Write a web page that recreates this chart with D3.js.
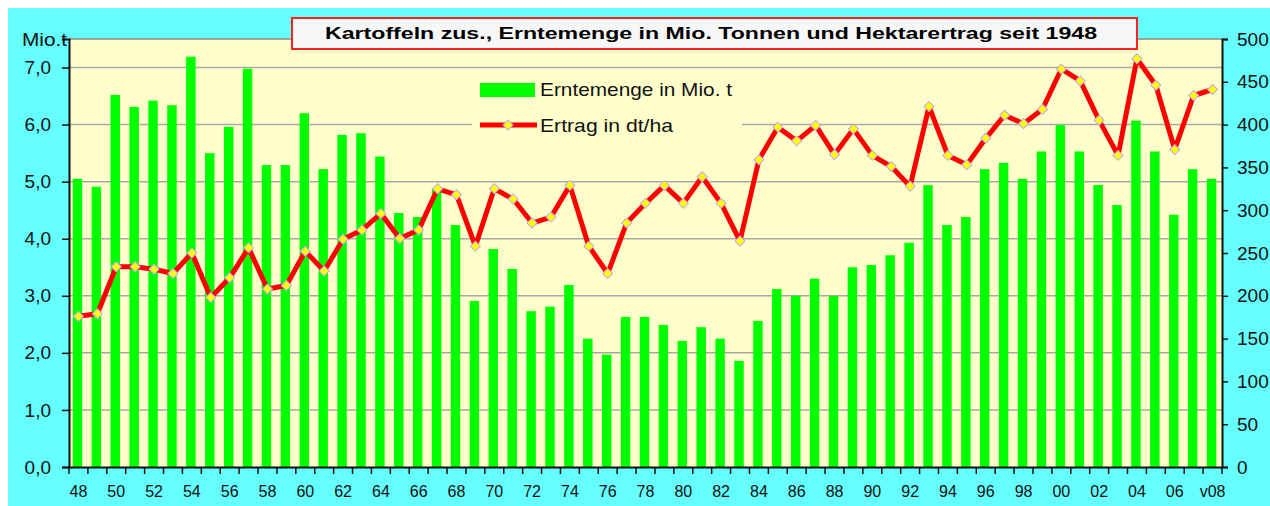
<!DOCTYPE html>
<html>
<head>
<meta charset="utf-8">
<script src="https://cdn.jsdelivr.net/npm/d3@7"></script>
<style>
  body { margin: 0; background: #fff; }
  svg { display: block; font-family: "Liberation Sans", Arial, sans-serif; }
</style>
</head>
<body>
<div id="chart"></div>
<script>
// years 1948 .. 2008 (v08 = vorläufig)
var years = ["48","49","50","51","52","53","54","55","56","57","58","59",
  "60","61","62","63","64","65","66","67","68","69","70","71","72","73","74",
  "75","76","77","78","79","80","81","82","83","84","85","86","87","88","89",
  "90","91","92","93","94","95","96","97","98","99","00","01","02","03","04",
  "05","06","07","v08"];

// Erntemenge in Mio. t
var harvest = [5.05,4.91,6.52,6.31,6.42,6.34,7.19,5.50,5.96,6.98,5.29,5.29,
  6.20,5.22,5.82,5.85,5.44,4.45,4.38,4.87,4.24,2.91,3.82,3.47,2.73,2.81,3.19,
  2.25,1.97,2.63,2.63,2.49,2.21,2.45,2.25,1.86,2.56,3.12,3.00,3.30,3.00,3.50,
  3.54,3.71,3.93,4.94,4.24,4.38,5.22,5.33,5.05,5.53,5.99,5.53,4.94,4.59,6.07,
  5.53,4.42,5.22,5.05];

// Ertrag in dt/ha
var yieldHa = [176,179,234,234,231,226,250,198,221,256,208,212,
  252,229,266,277,296,267,277,325,318,258,325,313,285,292,329,
  258,226,285,308,329,308,339,308,264,359,397,381,399,365,395,
  364,351,328,421,364,353,384,411,401,418,465,451,405,364,477,
  446,371,434,441];

var leftTicks = [0,1,2,3,4,5,6,7];
var rightTicks = [0,50,100,150,200,250,300,350,400,450,500];

var title = "Kartoffeln zus., Erntemenge in Mio. Tonnen und Hektarertrag seit 1948";
var legendBar = "Erntemenge in Mio. t";
var legendLine = "Ertrag in dt/ha";

var W = 1270, H = 506;
var margin = {top: 39, right: 48, bottom: 39, left: 69},
    width = W - margin.left - margin.right,
    height = H - margin.top - margin.bottom;

var svg = d3.select("#chart").append("svg")
    .attr("width", W)
    .attr("height", H);

// cyan chart area
svg.append("rect")
    .attr("x", 8).attr("y", 8)
    .attr("width", W - 8).attr("height", H - 8)
    .attr("fill", "#66ffff");

var g = svg.append("g")
    .attr("transform", "translate(" + margin.left + "," + margin.top + ")");

var x = d3.scaleBand().domain(years).range([0, width]).padding(0);
var y = d3.scaleLinear().domain([0, 7.5]).range([height, 0]);
var y2 = d3.scaleLinear().domain([0, 500]).range([height, 0]);

// plot background
g.append("rect")
    .attr("width", width).attr("height", height)
    .attr("fill", "#ffffcc");

// top border
g.append("line")
    .attr("x1", 0).attr("x2", width)
    .attr("y1", 0).attr("y2", 0)
    .attr("stroke", "#8a8a8a").attr("stroke-width", 1.5);

// gridlines
g.selectAll(".grid")
    .data(leftTicks.filter(function(d) { return d > 0; }))
  .enter().append("line")
    .attr("x1", 0).attr("x2", width)
    .attr("y1", function(d) { return y(d); })
    .attr("y2", function(d) { return y(d); })
    .attr("stroke", "#a8a8a8").attr("stroke-width", 1.5);

// bars
var bw = x.bandwidth() * 0.5;
g.selectAll(".bar")
    .data(harvest)
  .enter().append("rect")
    .attr("x", function(d, i) { return x(years[i]) + (x.bandwidth() - bw) / 2 - 1; })
    .attr("width", bw)
    .attr("y", function(d) { return y(d); })
    .attr("height", function(d) { return height - y(d); })
    .style("fill", "#00ff00");

// legend box
var leg = svg.append("g");
leg.append("rect")
    .attr("x", 472).attr("y", 72).attr("width", 270).attr("height", 70)
    .attr("fill", "#ffffcc");
leg.append("rect")
    .attr("x", 480).attr("y", 83).attr("width", 55).attr("height", 14)
    .attr("fill", "#00ff00");
leg.append("text")
    .attr("x", 540).attr("y", 96)
    .attr("font-size", 19)
    .attr("textLength", 192).attr("lengthAdjust", "spacingAndGlyphs")
    .attr("fill", "#111")
    .text(legendBar);
leg.append("line")
    .attr("x1", 480).attr("x2", 537).attr("y1", 125).attr("y2", 125)
    .attr("stroke", "#ff0000").attr("stroke-width", 5);
leg.append("path")
    .attr("d", d3.symbol().type(d3.symbolSquare).size(50)())
    .attr("transform", "translate(508,125) rotate(45)")
    .attr("fill", "#ffff00").attr("stroke", "#c4a4f0").attr("stroke-width", 1);
leg.append("text")
    .attr("x", 540).attr("y", 132)
    .attr("font-size", 19)
    .attr("textLength", 133).attr("lengthAdjust", "spacingAndGlyphs")
    .attr("fill", "#111")
    .text(legendLine);

// yield line
var line = d3.line()
    .x(function(d, i) { return x(years[i]) + x.bandwidth() / 2; })
    .y(function(d) { return y2(d); });

g.append("path")
    .datum(yieldHa)
    .attr("d", line)
    .attr("fill", "none")
    .attr("stroke", "#ff0000")
    .attr("stroke-width", 5)
    .attr("stroke-linejoin", "round");

g.selectAll(".mark")
    .data(yieldHa)
  .enter().append("path")
    .attr("d", d3.symbol().type(d3.symbolSquare).size(50)())
    .attr("transform", function(d, i) {
      return "translate(" + (x(years[i]) + x.bandwidth() / 2) + "," + y2(d) + ") rotate(45)";
    })
    .attr("fill", "#ffff00")
    .attr("stroke", "#c4a4f0")
    .attr("stroke-width", 1);

// left axis
var yAxis = d3.axisLeft(y).tickValues(leftTicks).tickSize(7).tickPadding(11)
    .tickFormat(function(d) { return d3.format(".1f")(d).replace(".", ","); });
var ya = g.append("g").call(yAxis);
ya.selectAll("text").attr("font-size", 19).attr("fill", "#111");

// right axis
var y2Axis = d3.axisRight(y2).tickValues(rightTicks).tickSize(6).tickPadding(9);
var y2a = g.append("g").attr("transform", "translate(" + width + ",0)").call(y2Axis);
y2a.selectAll("text").attr("font-size", 19).attr("fill", "#111");

// bottom axis: labels every second year, ticks at category borders
var xAxis = d3.axisBottom(x).tickSize(0).tickPadding(19)
    .tickFormat(function(d, i) { return i % 2 === 0 ? d : ""; });
var xa = g.append("g").attr("transform", "translate(0," + height + ")").call(xAxis);
xa.selectAll("text").attr("font-size", 16).attr("fill", "#111");
xa.selectAll(".border")
    .data(years.concat(["end"]))
  .enter().append("line")
    .attr("x1", function(d, i) { return i < years.length ? x(d) : width; })
    .attr("x2", function(d, i) { return i < years.length ? x(d) : width; })
    .attr("y1", 0).attr("y2", 7)
    .attr("stroke", "#111").attr("stroke-width", 1.5);

[ya, y2a, xa].forEach(function(a) {
  a.select(".domain").attr("stroke", "#111").attr("stroke-width", 2);
  a.selectAll(".tick line").attr("stroke", "#111").attr("stroke-width", 1.5);
});

// unit label
svg.append("text")
    .attr("x", 22).attr("y", 46)
    .attr("font-size", 19).attr("fill", "#111")
    .attr("textLength", 45).attr("lengthAdjust", "spacingAndGlyphs")
    .text("Mio.t");

// title box
svg.append("rect")
    .attr("x", 292).attr("y", 18).attr("width", 845).attr("height", 31)
    .attr("fill", "#f7f7f7").attr("stroke", "#ff2020").attr("stroke-width", 2);
svg.append("text")
    .attr("x", 325).attr("y", 39)
    .attr("font-size", 17).attr("font-weight", "bold")
    .attr("textLength", 772).attr("lengthAdjust", "spacingAndGlyphs")
    .attr("fill", "#000")
    .text(title);
</script>
</body>
</html>
